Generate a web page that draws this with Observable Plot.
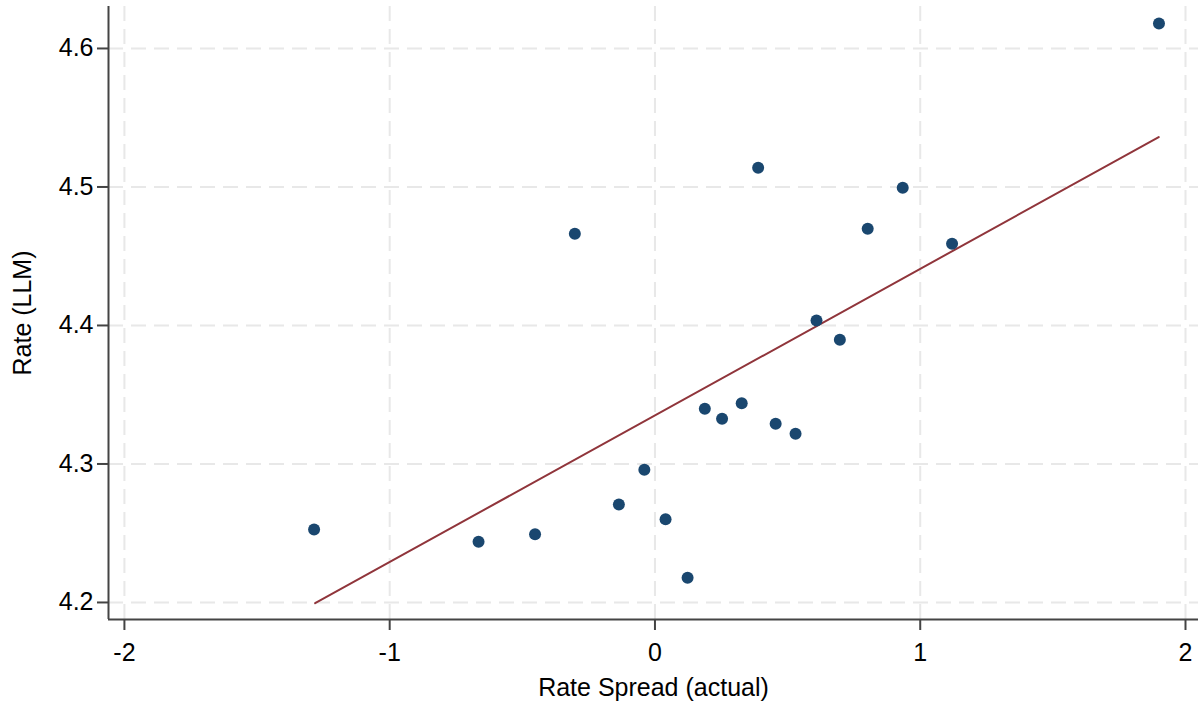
<!DOCTYPE html>
<html>
<head>
<meta charset="utf-8">
<script src="https://cdn.jsdelivr.net/npm/d3@7"></script>
<script src="https://cdn.jsdelivr.net/npm/@observablehq/plot@0.6"></script>
<style>
  html, body { margin: 0; padding: 0; background: #fff; }
  #chart { width: 1198px; height: 702px; }
</style>
</head>
<body>
<div id="chart"></div>
<script>
// Binned points: x = Rate Spread (actual), y = Rate (LLM)
const spreadActual = [-1.285, -0.665, -0.452, -0.302, -0.136, -0.040, 0.040, 0.123, 0.188, 0.253,
                      0.327, 0.389, 0.455, 0.530, 0.609, 0.697, 0.802, 0.934, 1.120, 1.900];
const rateLLM = [4.2527, 4.2438, 4.2493, 4.4662, 4.2708, 4.2958, 4.2601, 4.2178, 4.3398, 4.3326,
                 4.3439, 4.5139, 4.3290, 4.3218, 4.4036, 4.3897, 4.4698, 4.4994, 4.4590, 4.6180];
// Fitted line end points
const fitX = [-1.281, 1.899];
const fitY = [4.1995, 4.5360];
// Ticks
const xTicks = [-2, -1, 0, 1, 2];
const yTicks = [4.2, 4.3, 4.4, 4.5, 4.6];
const xDomain = [-2.06, 2.049];
const yDomain = [4.1877, 4.6303];

const points = spreadActual.map((x, i) => ({x, y: rateLLM[i]}));
const fit = fitX.map((x, i) => ({x, y: fitY[i]}));

const gridColor = "#e8e8e8";
const axisColor = "#444";

const chart = Plot.plot({
  width: 1198,
  height: 702,
  marginLeft: 108,
  marginRight: 0,
  marginTop: 6,
  marginBottom: 83,
  style: {fontFamily: "'Liberation Sans', Arial, sans-serif", background: "#fff"},
  x: {domain: xDomain},
  y: {domain: yDomain},
  marks: [
    Plot.ruleX(xTicks, {stroke: gridColor, strokeWidth: 2, strokeDasharray: "15,8"}),
    Plot.ruleY(yTicks, {stroke: gridColor, strokeWidth: 2, strokeDasharray: "15,8"}),
    Plot.line(fit, {x: "x", y: "y", stroke: "#90353b", strokeWidth: 2}),
    Plot.dot(points, {x: "x", y: "y", r: 6, fill: "#1a476f", stroke: "none"}),
    Plot.ruleY([yDomain[0]], {stroke: axisColor, strokeWidth: 2}),
    Plot.ruleX([xDomain[0]], {stroke: axisColor, strokeWidth: 2}),
    Plot.axisX(xTicks, {
      tickSize: 11, tickPadding: 13, stroke: axisColor, strokeWidth: 2,
      fontSize: 25, fill: "#000",
      tickFormat: d => d < 0 ? "-" + Math.abs(d) : String(d),
      label: null
    }),
    Plot.axisX({
      ticks: [], tickSize: 0,
      fontSize: 25, fill: "#000",
      label: "Rate Spread (actual)", labelAnchor: "center", labelArrow: "none", labelOffset: 76
    }),
    Plot.axisY(yTicks, {
      tickSize: 11, tickPadding: 4, stroke: axisColor, strokeWidth: 2,
      fontSize: 25, fill: "#000",
      tickFormat: d => d.toFixed(1),
      label: null
    }),
    Plot.axisY({
      ticks: [], tickSize: 0,
      fontSize: 25, fill: "#000",
      label: "Rate (LLM)", labelAnchor: "center", labelArrow: "none", labelOffset: 95
    })
  ]
});
document.getElementById("chart").appendChild(chart);
</script>
</body>
</html>
